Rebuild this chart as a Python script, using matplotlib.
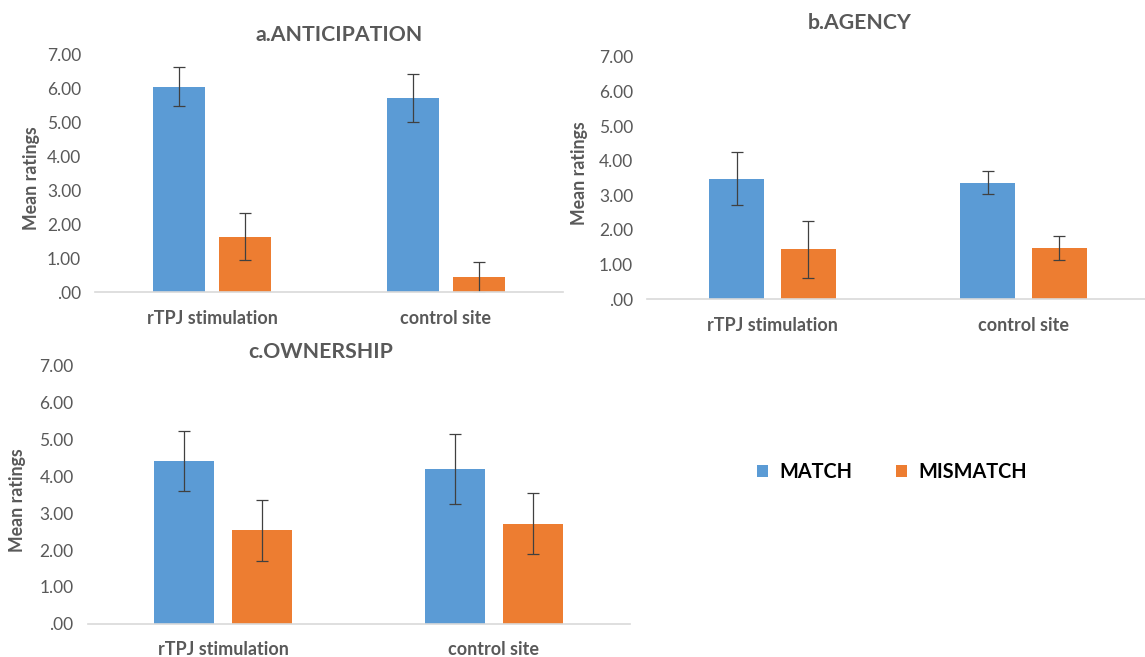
import matplotlib.pyplot as plt
import numpy as np
from matplotlib.ticker import FuncFormatter

plt.rcParams['font.family'] = ['Lato', 'DejaVu Sans']

categories = ["rTPJ stimulation", "control site"]
series_names = ["MATCH", "MISMATCH"]

# a. anticipation
antic_match = [6.05, 5.72]
antic_match_err = [0.58, 0.71]
antic_mismatch = [1.64, 0.44]
antic_mismatch_err = [0.70, 0.46]

# b. agency
agency_match = [3.48, 3.37]
agency_match_err = [0.77, 0.33]
agency_mismatch = [1.44, 1.49]
agency_mismatch_err = [0.82, 0.35]

# c. ownership
owner_match = [4.42, 4.21]
owner_match_err = [0.82, 0.95]
owner_mismatch = [2.54, 2.72]
owner_mismatch_err = [0.83, 0.83]

titles = ["a.ANTICIPATION", "b.AGENCY", "c.OWNERSHIP"]

blue = "#5B9BD5"
orange = "#ED7D31"
gray = "#595959"

W, H = 1145, 657
fig = plt.figure(figsize=(W/100, H/100), dpi=100)

def px_axes(x0, x1, ytop, ybot):
  return fig.add_axes([x0/W, 1-ybot/H, (x1-x0)/W, (ybot-ytop)/H])

def fmt(v, pos):
  s = "{:.2f}".format(v)
  if s.startswith("0"): s = s[1:]
  return s

def draw_panel(ax, match, match_err, mismatch, mismatch_err):
  x = np.arange(len(categories))
  width = 0.222
  off = 0.143
  ekw = dict(ecolor="#404040", elinewidth=0.9, capsize=4.5, capthick=0.9)
  b1 = ax.bar(x-off, match, width, color=blue, yerr=match_err, error_kw=ekw, label=series_names[0])
  b2 = ax.bar(x+off, mismatch, width, color=orange, yerr=mismatch_err, error_kw=ekw, label=series_names[1])
  ax.set_xlim(-0.5, 1.5)
  ax.set_ylim(0, 7)
  ax.set_yticks(np.arange(0, 8, 1))
  ax.yaxis.set_major_formatter(FuncFormatter(fmt))
  ax.set_xticks(x)
  ax.set_xticklabels(categories, fontsize=13, fontweight="bold", color=gray)
  ax.tick_params(axis="y", length=0, pad=10, labelsize=12.5, labelcolor=gray)
  ax.tick_params(axis="x", length=0, pad=12.5)
  for s in ["top", "right", "left"]:
    ax.spines[s].set_visible(False)
  ax.spines["bottom"].set_color("#D9D9D9")
  ax.spines["bottom"].set_linewidth(1.2)
  return b1, b2

ax_a = px_axes(95, 563, 54.3, 292.3)
ax_b = px_axes(647, 1149, 56.7, 299.3)
ax_c = px_axes(87.5, 629.5, 366, 623.7)

handles = draw_panel(ax_a, antic_match, antic_match_err, antic_mismatch, antic_mismatch_err)
draw_panel(ax_b, agency_match, agency_match_err, agency_mismatch, agency_mismatch_err)
draw_panel(ax_c, owner_match, owner_match_err, owner_mismatch, owner_mismatch_err)

# titles and y labels placed by pixel position
title_pos = [(339, 35), (860, 23), (321, 352)]
for t, (tx, ty) in zip(titles, title_pos):
  fig.text(tx/W, 1-ty/H, t, ha="center", va="center", fontsize=15.3, fontweight="bold", color=gray)

ylab_pos = [(31, 178), (580, 173), (18, 500)]
for (lx, ly) in ylab_pos:
  fig.text(lx/W, 1-ly/H, "Mean ratings", ha="center", va="center", rotation=90,
           fontsize=12.8, fontweight="bold", color=gray)

fig.legend(handles, series_names, loc="center", bbox_to_anchor=(892/W, 1-472/H), ncol=2,
           frameon=False, handlelength=0.55, handleheight=0.55, handletextpad=0.55,
           columnspacing=2.2, prop={"size": 14.3, "weight": "bold"})

plt.savefig("out.png", dpi=100)
